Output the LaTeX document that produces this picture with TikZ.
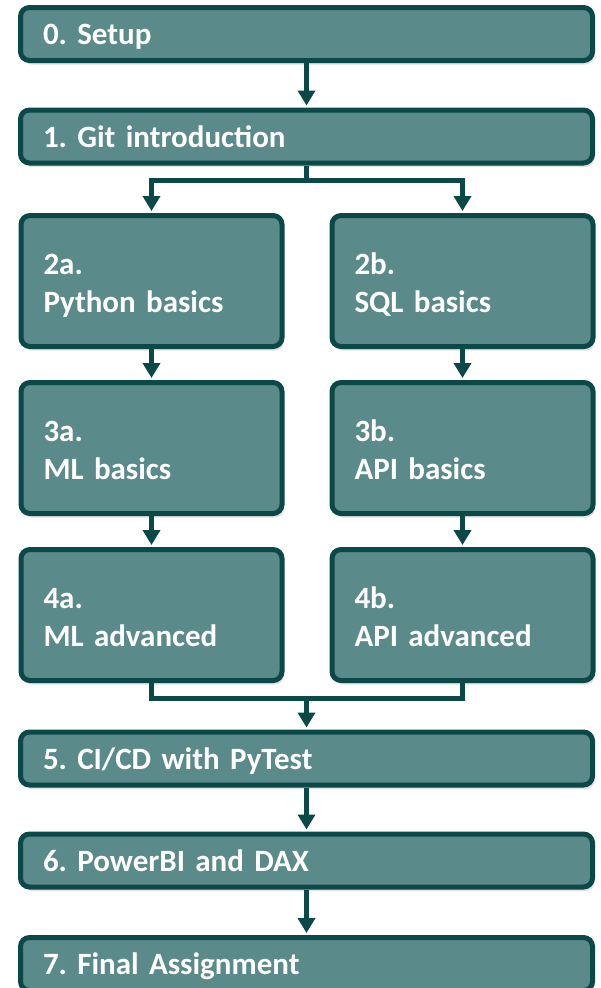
\documentclass[tikz,border=0pt]{standalone}
\usepackage{fontspec}
\setmainfont{Carlito}
\frenchspacing
\usetikzlibrary{arrows.meta,shadows}
\definecolor{tealfill}{HTML}{5B8A8A}
\definecolor{tealline}{HTML}{0B4848}
\tikzset{
  box/.style={draw=tealline, fill=tealfill, line width=5pt, rounded corners=9pt,
    inner xsep=22.5pt, inner ysep=0pt, text=white, align=left,
    font=\fontsize{31}{38}\selectfont\bfseries,
    drop shadow={shadow xshift=2pt, shadow yshift=-4pt, opacity=.12, fill=black}},
  wide/.style={box, text width=527pt, text depth=0pt, minimum height=53pt},
  half/.style={box, text width=216pt, text depth=34pt, minimum height=131pt},
  link/.style={draw=tealline, line width=5pt},
  flow/.style={link, -{Triangle[width=17pt,length=15pt]}, shorten >=2pt}
}
\begin{document}
\begin{tikzpicture}[x=1pt, y=-1pt]
  \useasboundingbox (0,0) rectangle (600,988);
  % single stages
  \node[wide] (s0) at (306.5,34) {0. Setup};
  \node[wide] (s1) at (306.5,136.5) {1. Git introduction};
  % two tracks
  \node[half] (s2a) at (151.5,281) {2a.\\Python basics};
  \node[half] (s2b) at (462.5,281) {2b.\\SQL basics};
  \node[half] (s3a) at (151.5,448) {3a.\\ML basics};
  \node[half] (s3b) at (462.5,448) {3b.\\API basics};
  \node[half] (s4a) at (151.5,615) {4a.\\ML advanced};
  \node[half] (s4b) at (462.5,615) {4b.\\API advanced};
  % joined again
  \node[wide] (s5) at (306.5,758.5) {5. CI/CD with PyTest};
  \node[wide] (s6) at (306.5,860.5) {6. PowerBI and DAX};
  \node[wide] (s7) at (306.5,964) {7. Final Assignment};
  \coordinate (split) at (306.5,180.5);
  \coordinate (merge) at (306.5,698.5);
  \draw[flow] (s0) -- (s1);
  \draw[link] (s1) -- (split);
  \draw[flow] (split) -| (s2a);
  \draw[flow] (split) -| (s2b);
  \draw[flow] (s2a) -- (s3a);
  \draw[flow] (s2b) -- (s3b);
  \draw[flow] (s3a) -- (s4a);
  \draw[flow] (s3b) -- (s4b);
  \draw[link] (s4a) |- (merge) -| (s4b);
  \draw[flow] (merge) -- (s5);
  \draw[flow] (s5) -- (s6);
  \draw[flow] (s6) -- (s7);
\end{tikzpicture}
\end{document}
